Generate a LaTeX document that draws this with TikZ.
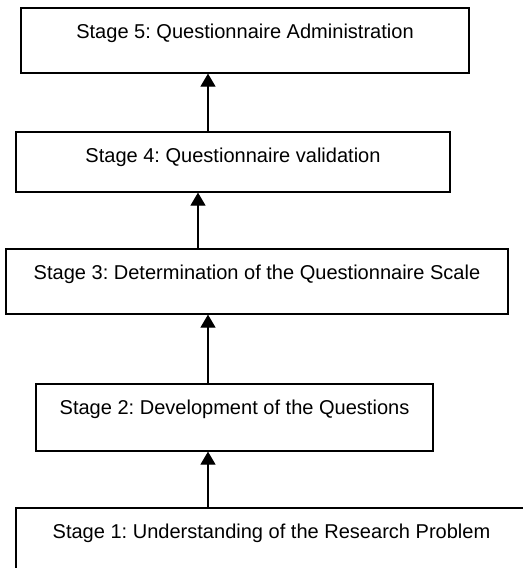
\documentclass[tikz,border=0pt]{standalone}
\usepackage{fontspec}
\setmainfont{Liberation Sans}
\usetikzlibrary{arrows.meta}
\frenchspacing
\begin{document}
\begin{tikzpicture}[line width=0.7pt, >={Triangle[width=0.3cm,length=0.26cm]},
  stage/.style={rectangle,draw,inner sep=0pt,text height=0.6cm,text depth=#1,font=\fontsize{11.4pt}{13.7pt}\selectfont},
  stage/.default=0.7cm]
\useasboundingbox (0,0) rectangle (10.46,11.36);
\clip (0,0) rectangle (10.46,11.36);
\node[stage,minimum width=8.96cm] (s5) at (4.90,10.55) {Stage 5: Questionnaire Administration};
\node[stage=0.6cm,minimum width=8.68cm] (s4) at (4.66,8.12) {Stage 4: Questionnaire validation};
\node[stage,minimum width=10.04cm] (s3) at (5.14,5.73) {Stage 3: Determination of the Questionnaire Scale};
\node[stage=0.74cm,minimum width=7.94cm] (s2) at (4.69,3.01) {Stage 2: Development of the Questions};
\node[stage=0.74cm,minimum width=10.22cm] (s1) at (5.43,0.53) {Stage 1: Understanding of the Research Problem};
\draw[->] (s1.north -| 4.16,0) -- (s2.south -| 4.16,0);
\draw[->] (s2.north -| 4.16,0) -- (s3.south -| 4.16,0);
\draw[->] (s3.north -| 3.96,0) -- (s4.south -| 3.96,0);
\draw[->] (s4.north -| 4.16,0) -- (s5.south -| 4.16,0);
\end{tikzpicture}
\end{document}
